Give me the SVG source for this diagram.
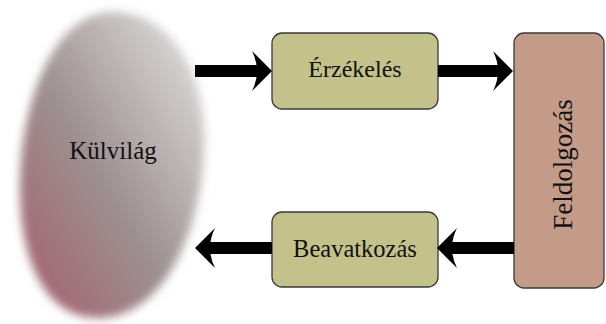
<svg xmlns="http://www.w3.org/2000/svg" width="606" height="324" viewBox="0 0 606 324">
  <style>
    text { font-family: 'Liberation Serif', 'Times New Roman', Times, serif; fill: #111; text-anchor: middle; }
    .box { stroke: #3a3a3a; stroke-width: 1.3; }
    .green { fill: #c2c28a; }
    .rose { fill: #c49a88; }
    .conn { stroke: #000; stroke-width: 12; fill: none; marker-end: url(#head); }
  </style>
  <defs>
    <linearGradient id="blobGrad" x1="0" y1="1" x2="1" y2="0">
      <stop offset="0" stop-color="#a55d6d"/>
      <stop offset="0.45" stop-color="#9d9090"/>
      <stop offset="1" stop-color="#e6e6e6"/>
    </linearGradient>
    <filter id="soft" x="-20%" y="-20%" width="140%" height="140%">
      <feGaussianBlur stdDeviation="5"/>
    </filter>
    <marker id="head" markerUnits="userSpaceOnUse" markerWidth="20" markerHeight="40" viewBox="0 0 20 40" refX="12" refY="20" orient="auto">
      <path d="M20,20 L0,0 Q5,10 5,20 Q5,30 0,40 Z" fill="#000"/>
    </marker>
  </defs>

  <g id="kulvilag">
    <path d="M112,12 C170,12 208,70 204,150 C200,240 160,318 98,318 C45,318 20,260 20,190 C20,100 55,12 112,12 Z" fill="url(#blobGrad)" filter="url(#soft)"/>
    <text x="113" y="159" font-size="25" font-family="Liberation Serif, serif">Külvilág</text>
  </g>

  <g id="erzekeles">
    <rect class="box green" x="272" y="33" width="166" height="76" rx="10"/>
    <text x="355" y="77" font-size="24" font-family="Liberation Serif, serif">Érzékelés</text>
  </g>

  <g id="beavatkozas">
    <rect class="box green" x="272" y="212" width="166" height="75" rx="10"/>
    <text x="355" y="257" font-size="24.5" font-family="Liberation Serif, serif">Beavatkozás</text>
  </g>

  <g id="feldolgozas">
    <rect class="box rose" x="514" y="33" width="90" height="255" rx="10"/>
    <text x="0" y="0" font-size="27" font-family="Liberation Serif, serif" transform="translate(572 164.5) rotate(-90)">Feldolgozás</text>
  </g>

  <g id="connectors">
    <path class="conn" d="M195,71 H264"/>
    <path class="conn" d="M438,71 H505"/>
    <path class="conn" d="M514,248 H445"/>
    <path class="conn" d="M272,248 H203"/>
  </g>
</svg>
